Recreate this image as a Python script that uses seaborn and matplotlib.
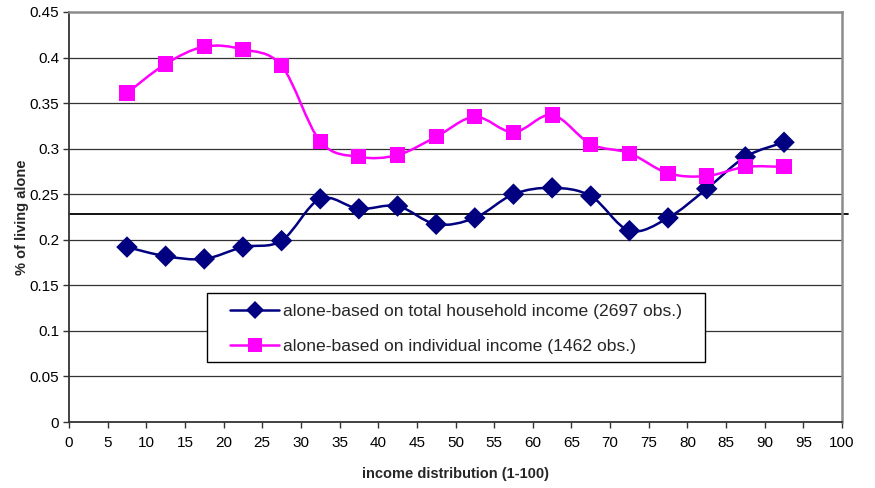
import numpy as np
import pandas as pd
import seaborn as sns
import matplotlib
matplotlib.use("Agg")
import matplotlib.pyplot as plt
from matplotlib.path import Path
from matplotlib.patches import PathPatch, Rectangle
from matplotlib.lines import Line2D

# income percentile bin centres
income_pct = [7.5, 12.5, 17.5, 22.5, 27.5, 32.5, 37.5, 42.5, 47.5,
              52.5, 57.5, 62.5, 67.5, 72.5, 77.5, 82.5, 87.5, 92.5]

# share living alone, by household income
alone_household = [0.192, 0.182, 0.179, 0.192, 0.199, 0.245, 0.234, 0.237, 0.217,
                   0.224, 0.250, 0.257, 0.248, 0.210, 0.224, 0.256, 0.291, 0.307]

# share living alone, by individual income
alone_individual = [0.361, 0.393, 0.412, 0.409, 0.391, 0.308, 0.291, 0.293, 0.313,
                    0.335, 0.318, 0.337, 0.305, 0.295, 0.273, 0.270, 0.280, 0.280]

overall_share = 0.228

label_household = "alone-based on total household income (2697 obs.)"
label_individual = "alone-based on individual income (1462 obs.)"

navy = "#000080"
magenta = "#FF00FF"

df = pd.DataFrame({
    "income": income_pct * 2,
    "share": alone_household + alone_individual,
    "series": [label_household] * len(income_pct) + [label_individual] * len(income_pct),
})

sns.set_theme(style="white")
plt.rcParams["font.family"] = ["Liberation Sans", "DejaVu Sans"]

W, H = 875, 488
fig = plt.figure(figsize=(W / 100, H / 100), dpi=100)
ax = fig.add_axes([69 / W, 1 - 422 / H, (842 - 69) / W, (422 - 12) / H])


def smooth_path(xs, ys):
    """Cubic Bezier path through the points (Catmull-Rom style smoothing)."""
    pts = np.column_stack([xs, ys])
    verts = [pts[0]]
    codes = [Path.MOVETO]
    n = len(pts)
    for i in range(n - 1):
        p0 = pts[i - 1] if i > 0 else pts[i]
        p1 = pts[i]
        p2 = pts[i + 1]
        p3 = pts[i + 2] if i + 2 < n else pts[i + 1]
        c1 = p1 + (p2 - p0) / 6.0
        c2 = p2 - (p3 - p1) / 6.0
        verts += [c1, c2, p2]
        codes += [Path.CURVE4] * 3
    return Path(verts, codes)


# horizontal grid
for yv in np.arange(0.05, 0.45, 0.05):
    ax.axhline(yv, color="#333333", lw=0.9, zorder=1)

# overall average line
ax.plot([0, 1.008], [overall_share, overall_share], color="black", lw=1.3,
        transform=ax.get_yaxis_transform(), clip_on=False, zorder=2)

for col, color in [(alone_household, navy), (alone_individual, magenta)]:
    ax.add_patch(PathPatch(smooth_path(income_pct, col), facecolor="none",
                           edgecolor=color, lw=1.8, zorder=3))

sns.scatterplot(data=df, x="income", y="share", hue="series", style="series",
                palette=[navy, magenta], markers=["D", "s"], s=120,
                edgecolor="none", linewidth=0, legend=False, ax=ax, zorder=4)

ax.set_xlim(0, 100)
ax.set_ylim(0, 0.45)
ax.set_xticks(np.arange(0, 101, 5))
ax.set_yticks(np.arange(0, 0.451, 0.05))
ax.set_xticklabels([str(v) for v in range(0, 101, 5)])
ax.set_yticklabels(["0", "0.05", "0.1", "0.15", "0.2", "0.25", "0.3", "0.35", "0.4", "0.45"])
ax.tick_params(axis="both", which="both", direction="out", length=4, width=1,
               color="#333333", labelsize=11, labelcolor="black", pad=3,
               bottom=True, left=True)
ax.tick_params(axis="x", pad=6)

for side in ["left", "bottom"]:
    ax.spines[side].set_color("#333333")
    ax.spines[side].set_linewidth(1.3)
for side in ["top", "right"]:
    ax.spines[side].set_color("#8c8c8c")
    ax.spines[side].set_linewidth(1.8)

ax.set_xlabel("income distribution (1-100)", fontsize=10.5, fontweight="bold")
ax.set_ylabel("% of living alone", fontsize=10.5, fontweight="bold")
ax.xaxis.set_label_coords(0.5, -(474 - 422) / 410, transform=ax.transAxes)
ax.yaxis.set_label_coords(-(69 - 22) / 773, 0.5, transform=ax.transAxes)
ax.xaxis.label.set_va("center")
ax.yaxis.label.set_va("center")

# legend box
frame = Rectangle((207 / W, 1 - 362 / H), (705 - 207) / W, (362 - 293) / H,
                  transform=fig.transFigure, facecolor="white", edgecolor="black",
                  lw=1.0, zorder=5)
ax.add_patch(frame)
frame.set_clip_on(False)

handles = [
    Line2D([], [], color=navy, lw=1.8, marker="D", markersize=9, markeredgewidth=0),
    Line2D([], [], color=magenta, lw=1.8, marker="s", markersize=10.5, markeredgewidth=0),
]
leg = ax.legend(handles, [label_household, label_individual], loc="upper left",
                bbox_to_anchor=(230 / W, 1 - 304 / H), bbox_transform=fig.transFigure,
                fontsize=12.6, frameon=False, borderpad=0, labelspacing=1.1,
                handlelength=2.8, handletextpad=0.23, borderaxespad=0)
leg.set_zorder(6)

fig.savefig("out.png", dpi=100, facecolor="white")
